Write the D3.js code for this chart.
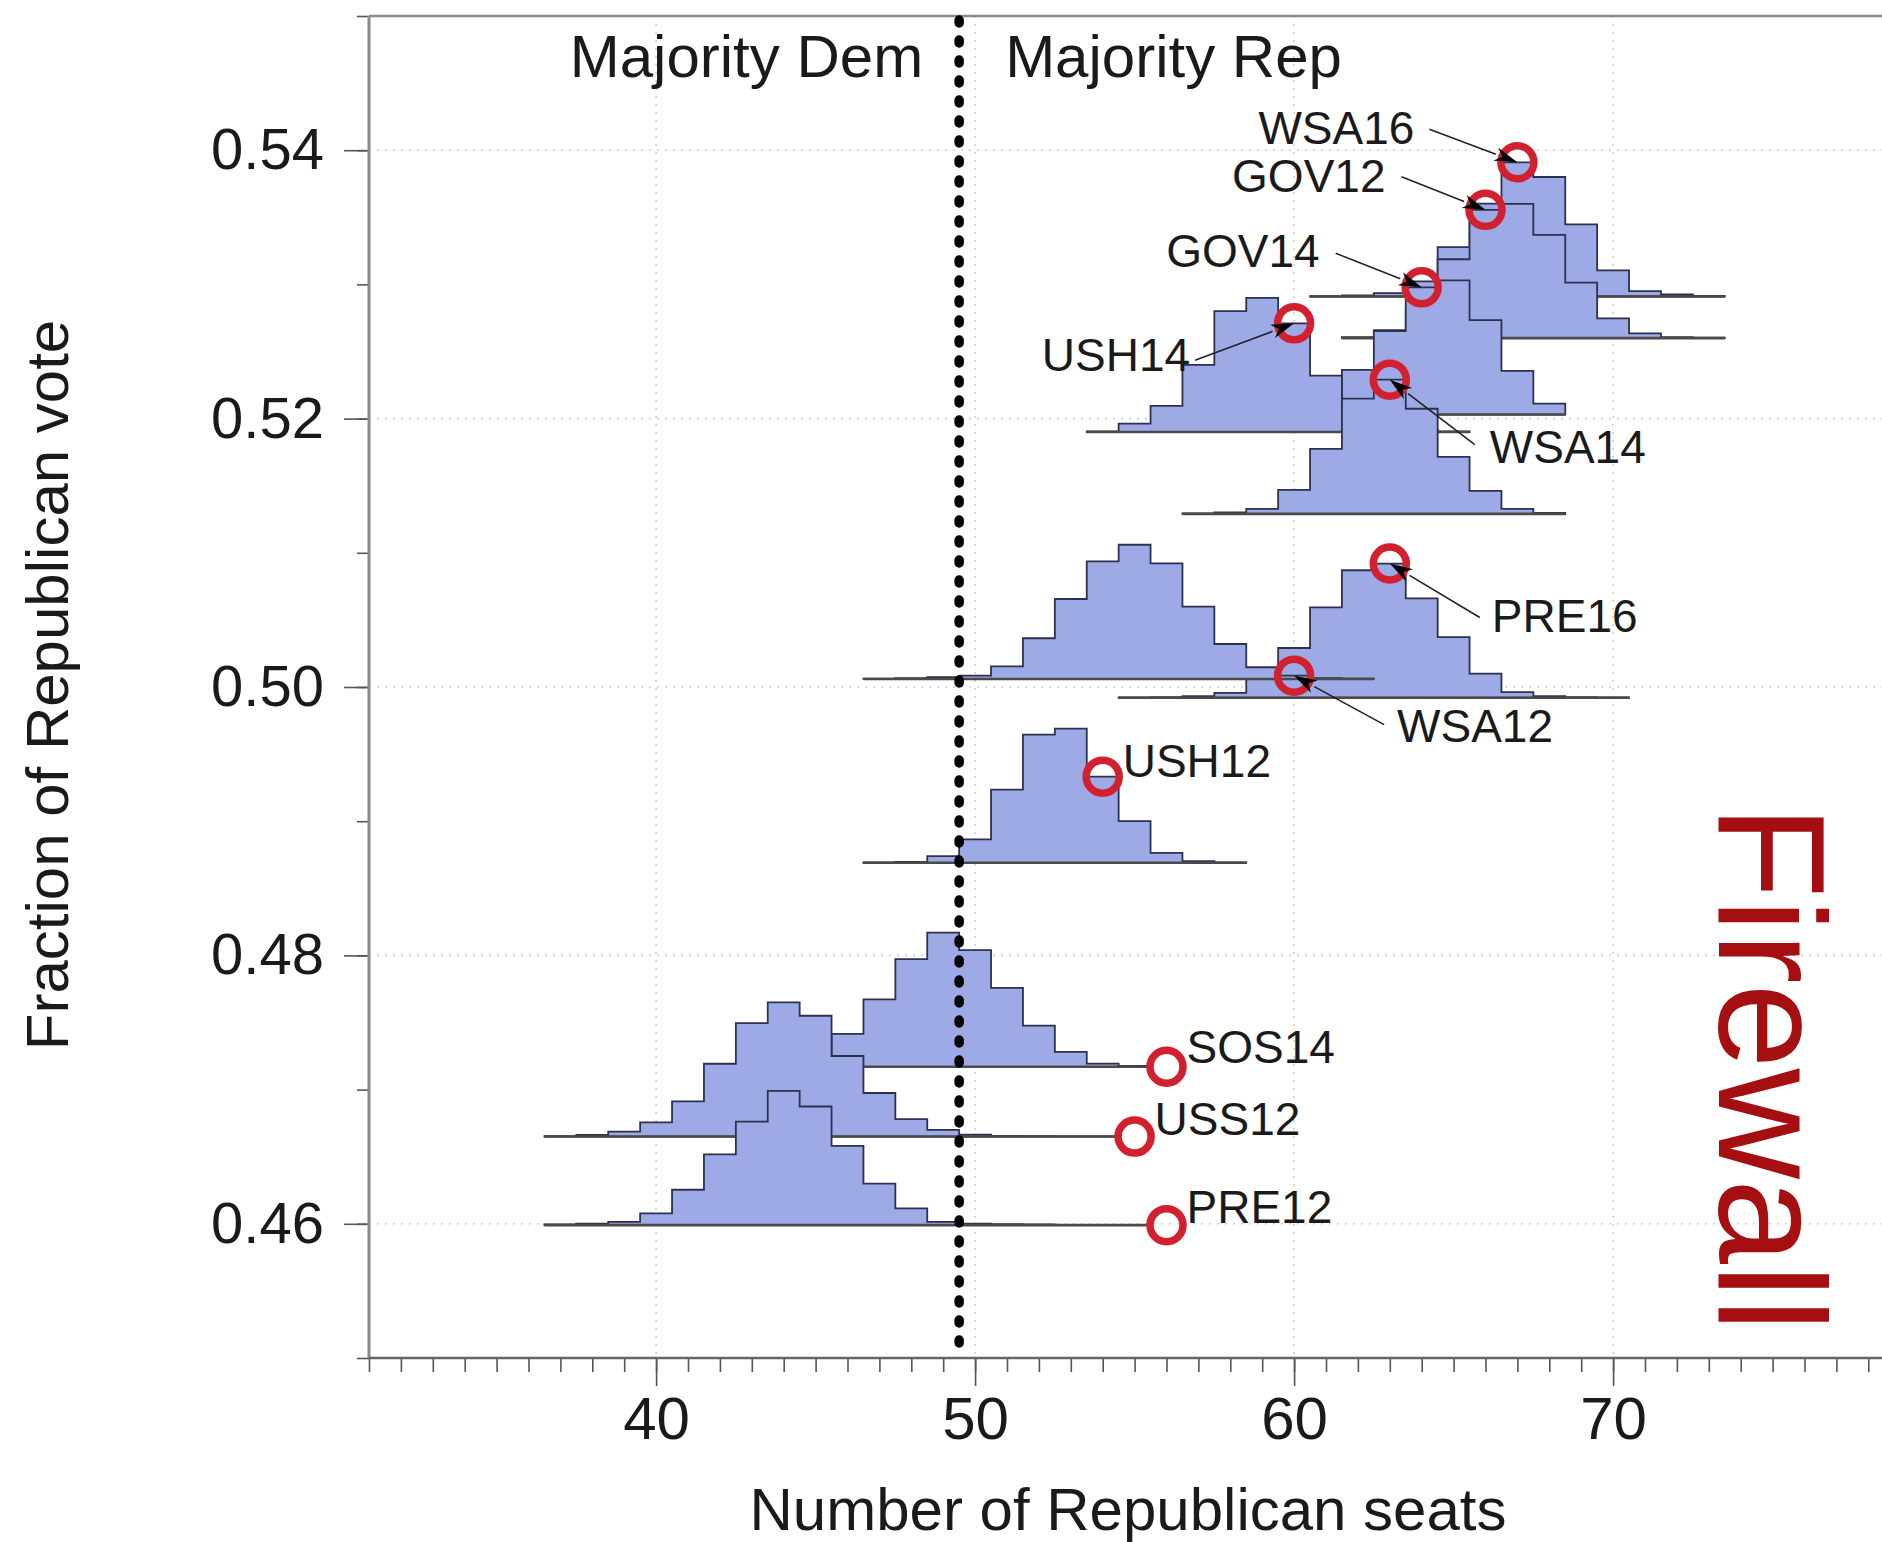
<!DOCTYPE html>
<html>
<head>
<meta charset="utf-8">
<script src="https://cdn.jsdelivr.net/npm/d3@7"></script>
<style>
  body { margin: 0; background: #fff; }
  svg { display: block; }
  text { font-family: "Liberation Sans", Arial, Helvetica, sans-serif; fill: #1a1a1a; }
</style>
</head>
<body>
<svg id="chart" width="1882" height="1542"></svg>
<script>
// Statewide elections, from the highest Republican vote share to the lowest
const elections    = ["WSA16", "GOV12", "GOV14", "USH14", "WSA14", "PRE16", "WSA12", "USH12", "SOS14", "USS12", "PRE12"];
// Republican fraction of the statewide vote (baseline of each distribution)
const statewideVote = [0.5291, 0.5260, 0.5203, 0.5190, 0.5129, 0.4992, 0.5006, 0.4869, 0.4717, 0.4665, 0.4599];
// Seats actually won by Republicans under the enacted map
const actualSeats   = [67, 66, 64, 60, 63, 63, 60, 54, 56, 55, 56];
// Lowest seat count in each simulated distribution
const firstSeat     = [61, 62, 59, 54, 57, 55, 47, 47, 43, 37, 37];

// Share of simulated district plans (%) giving each seat count
const sharesWSA16 = [0.06, 0.19, 0.63, 2.88, 9.47, 17.80, 25.73, 22.91, 13.83, 4.99, 1.02, 0.38, 0.10];
const sharesGOV12 = [0.18, 1.42, 5.32, 13.96, 22.70, 23.76, 18.27, 9.81, 3.49, 0.83, 0.18, 0.09];
const sharesGOV14 = [0.18, 0.71, 2.84, 7.99, 14.92, 22.74, 23.98, 16.87, 7.82, 1.95];
const sharesUSH14 = [0.09, 1.50, 4.69, 12.03, 21.65, 24.05, 19.48, 10.10, 4.51, 1.44, 0.36, 0.09];
const sharesWSA14 = [0.09, 0.28, 0.93, 4.47, 12.10, 21.42, 24.95, 19.55, 10.61, 4.28, 0.93, 0.19];
const sharesPRE16 = [0.05, 0.08, 0.24, 0.79, 3.97, 7.94, 14.44, 20.36, 21.43, 15.87, 9.68, 3.86, 0.90, 0.27, 0.08, 0.05];
const sharesWSA12 = [0.05, 0.11, 0.27, 0.52, 2.01, 6.46, 12.69, 18.67, 21.30, 18.35, 11.47, 5.55, 1.86, 0.52, 0.11, 0.05];
const sharesUSH12 = [0.10, 0.20, 1.32, 4.60, 14.42, 25.28, 26.46, 16.98, 8.23, 1.97, 0.34, 0.10];
const sharesSOS14 = [0.16, 0.64, 1.93, 5.35, 10.96, 17.50, 21.83, 18.99, 12.84, 6.69, 2.41, 0.53, 0.16];
const sharesUSS12 = [0.08, 0.26, 0.77, 2.17, 5.42, 11.21, 17.47, 20.66, 18.60, 12.40, 6.71, 2.68, 1.04, 0.31, 0.11, 0.06, 0.03, 0.02];
const sharesPRE12 = [0.10, 0.24, 0.53, 1.89, 5.67, 11.34, 16.57, 21.49, 19.00, 12.68, 6.64, 2.70, 0.53, 0.24, 0.16, 0.11, 0.05, 0.03, 0.02];
const seatShares = [sharesWSA16, sharesGOV12, sharesGOV14, sharesUSH14, sharesWSA14, sharesPRE16,
                    sharesWSA12, sharesUSH12, sharesSOS14, sharesUSS12, sharesPRE12];

// Axes
const xTickValues = [40, 50, 60, 70];
const yTickValues = [0.46, 0.48, 0.50, 0.52, 0.54];
const majorityLine = 49.5;   // 50 of 99 Assembly seats is a majority

const svg = d3.select("#chart");
const W = 1882, H = 1542;

const x = d3.scaleLinear().domain([31, 80]).range([369, 369 + 49 * 31.9]);
const y = d3.scaleLinear().domain([0.45, 0.55]).range([1358, 16]);
const plotLeft = x(31), plotRight = W, plotTop = y(0.55), plotBottom = y(0.45);

// tallest bin of every distribution spans 0.01 of vote share
const peakSpan = 0.01;

// ---------- grid ----------
const grid = svg.append("g");
grid.selectAll("line.gx").data(xTickValues).join("line")
  .attr("x1", d => x(d)).attr("x2", d => x(d))
  .attr("y1", plotTop).attr("y2", plotBottom)
  .attr("stroke", "#cfcfcf").attr("stroke-width", 1.6).attr("stroke-dasharray", "2,6");
grid.selectAll("line.gy").data(yTickValues).join("line")
  .attr("x1", plotLeft).attr("x2", plotRight)
  .attr("y1", d => y(d)).attr("y2", d => y(d))
  .attr("stroke", "#cfcfcf").attr("stroke-width", 1.6).attr("stroke-dasharray", "2,6");

// ---------- distributions ----------
function binHeight(i, seat) {
  const arr = seatShares[i];
  const j = seat - firstSeat[i];
  if (j < 0 || j >= arr.length) return 0;
  return arr[j] / d3.max(arr) * peakSpan;
}

const stepLine = d3.line();
const hist = svg.append("g");
elections.forEach((name, i) => {
  const base = statewideVote[i];
  const arr = seatShares[i];
  const s0 = firstSeat[i];
  const pts = [[x(s0 - 0.5), y(base)]];
  arr.forEach((v, j) => {
    const h = binHeight(i, s0 + j);
    pts.push([x(s0 + j - 0.5), y(base + h)]);
    pts.push([x(s0 + j + 0.5), y(base + h)]);
  });
  pts.push([x(s0 + arr.length - 0.5), y(base)]);
  hist.append("path")
    .attr("d", stepLine(pts) + "Z")
    .attr("fill", "#9eaae6")
    .attr("stroke", "#2c3150")
    .attr("stroke-width", 1.8)
    .attr("stroke-linejoin", "miter");
  hist.append("line")
    .attr("x1", x(s0 - 0.5)).attr("x2", x(s0 + arr.length - 0.5))
    .attr("y1", y(base)).attr("y2", y(base))
    .attr("stroke", "#4a4a4a").attr("stroke-width", 2.6);
});

// ---------- axes ----------
const axisColor = "#8a8a8a";
const yMinor = d3.range(45, 56).map(v => v / 100);
const gyMinor = svg.append("g").attr("transform", `translate(${plotLeft},0)`)
  .call(d3.axisLeft(y).tickValues(yMinor).tickSize(12).tickFormat(""));
const gy = svg.append("g").attr("transform", `translate(${plotLeft},0)`)
  .call(d3.axisLeft(y).tickValues(yTickValues).tickSize(25).tickPadding(20).tickFormat(d3.format(".2f")));
const xMinor = d3.range(31, 80);
const gxMinor = svg.append("g").attr("transform", `translate(0,${plotBottom})`)
  .call(d3.axisBottom(x).tickValues(xMinor).tickSize(14).tickFormat(""));
const gx = svg.append("g").attr("transform", `translate(0,${plotBottom})`)
  .call(d3.axisBottom(x).tickValues(xTickValues).tickSize(28).tickPadding(10).tickFormat(d3.format("d")));
[gyMinor, gy, gxMinor, gx].forEach(g => {
  g.select(".domain").remove();
  g.selectAll(".tick line").attr("stroke", "#555").attr("stroke-width", 1.6);
});
gy.selectAll(".tick text").attr("font-size", 58).attr("fill", "#1a1a1a");
gx.selectAll(".tick text").attr("font-size", 60).attr("fill", "#1a1a1a");

// frame: left, bottom and top edges
svg.append("line").attr("x1", plotLeft).attr("x2", plotLeft).attr("y1", plotTop).attr("y2", plotBottom)
  .attr("stroke", axisColor).attr("stroke-width", 3);
svg.append("line").attr("x1", plotLeft).attr("x2", plotRight).attr("y1", plotBottom).attr("y2", plotBottom)
  .attr("stroke", "#666").attr("stroke-width", 2.5);
svg.append("line").attr("x1", plotLeft).attr("x2", plotRight).attr("y1", plotTop).attr("y2", plotTop)
  .attr("stroke", axisColor).attr("stroke-width", 2.5);

// ---------- majority threshold ----------
svg.append("line")
  .attr("x1", x(majorityLine)).attr("x2", x(majorityLine))
  .attr("y1", plotTop + 4).attr("y2", plotBottom)
  .attr("stroke", "#000").attr("stroke-width", 9.5)
  .attr("stroke-linecap", "round").attr("stroke-dasharray", "3,17");

svg.append("text").attr("x", x(majorityLine) - 36).attr("y", 77)
  .attr("text-anchor", "end").attr("font-size", 60).text("Majority Dem");
svg.append("text").attr("x", x(majorityLine) + 46).attr("y", 77)
  .attr("text-anchor", "start").attr("font-size", 60).text("Majority Rep");

// ---------- actual outcomes ----------
const outcome = elections.map((name, i) => ({
  name,
  cx: x(actualSeats[i]),
  cy: y(statewideVote[i] + binHeight(i, actualSeats[i]))
}));

// label placement relative to each outcome marker (text offset, arrow tail)
const labelLayout = {
  WSA16: { dx: -103, dy: -18, anchor: "end",   tail: [-88, -33] },
  GOV12: { dx: -100, dy: -18, anchor: "end",   tail: [-84, -33] },
  GOV14: { dx: -102, dy: -20, anchor: "end",   tail: [-86, -34] },
  USH14: { dx: -104, dy: 48,  anchor: "end",   tail: [-99, 37] },
  WSA14: { dx: 100,  dy: 83,  anchor: "start", tail: [85, 65] },
  PRE16: { dx: 102,  dy: 68,  anchor: "start", tail: [90, 54] },
  WSA12: { dx: 103,  dy: 66,  anchor: "start", tail: [90, 49] },
  USH12: { dx: 20,   dy: 0,   anchor: "start" },
  SOS14: { dx: 20,   dy: -4,  anchor: "start" },
  USS12: { dx: 20,   dy: -2,  anchor: "start" },
  PRE12: { dx: 20,   dy: -2,  anchor: "start" }
};

const marks = svg.append("g");
marks.selectAll("circle").data(outcome).join("circle")
  .attr("cx", d => d.cx).attr("cy", d => d.cy).attr("r", 16.5)
  .attr("fill", "none").attr("stroke", "#d3202f").attr("stroke-width", 7.5);

const ann = svg.append("g");
outcome.forEach(d => {
  const L = labelLayout[d.name];
  if (L.tail) {
    const tx = d.cx + L.tail[0], ty = d.cy + L.tail[1];
    const ang = Math.atan2(d.cy - ty, d.cx - tx);
    const len = 23, half = 7;
    const bx = d.cx - len * Math.cos(ang), by = d.cy - len * Math.sin(ang);
    ann.append("line").attr("x1", tx).attr("y1", ty).attr("x2", bx).attr("y2", by)
      .attr("stroke", "#222").attr("stroke-width", 1.6);
    const nx = -Math.sin(ang), ny = Math.cos(ang);
    ann.append("path")
      .attr("d", `M${d.cx},${d.cy}L${bx + nx * half},${by + ny * half}L${bx + 0.3 * len * Math.cos(ang)},${by + 0.3 * len * Math.sin(ang)}L${bx - nx * half},${by - ny * half}Z`)
      .attr("fill", "#000");
  }
  ann.append("text")
    .attr("x", d.cx + L.dx).attr("y", d.cy + L.dy)
    .attr("text-anchor", L.anchor).attr("font-size", 46)
    .text(d.name);
});

// ---------- titles ----------
svg.append("text").attr("x", 1128).attr("y", 1530).attr("text-anchor", "middle")
  .attr("font-size", 60).text("Number of Republican seats");
svg.append("text").attr("transform", "translate(68,685) rotate(-90)").attr("text-anchor", "middle")
  .attr("font-size", 60).text("Fraction of Republican vote");

svg.append("text").attr("transform", "translate(1719,805) rotate(90)")
  .attr("font-size", 153).style("fill", "#a50f12").text("Firewall");
</script>
</body>
</html>
